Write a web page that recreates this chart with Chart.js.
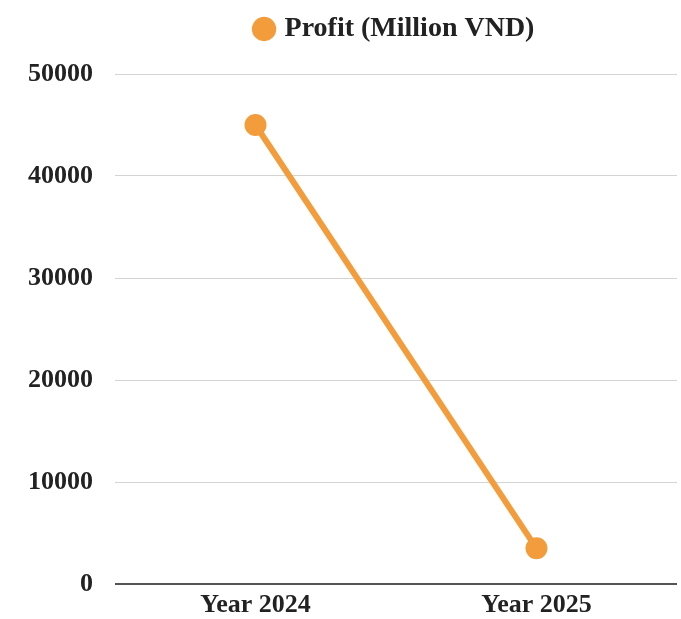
<!DOCTYPE html>
<html>
<head>
<meta charset="utf-8">
<script src="https://cdn.jsdelivr.net/npm/chart.js@4"></script>
<style>
    html, body { margin: 0; padding: 0; background: #fff; }
    .wrap { width: 681px; height: 619px; position: relative; }
</style>
</head>
<body>
<div class="wrap"><canvas id="chart"></canvas></div>
<script>
const years = ["Year 2024", "Year 2025"];
const profit = [45000, 3500];
const yTicks = [0, 10000, 20000, 30000, 40000, 50000];

const orange = "#f39c3c";
const serif = "'Liberation Serif', 'Times New Roman', serif";

// legend takes a fixed band at the top so the plot starts lower
const legendSpace = {
    id: "legendSpace",
    beforeLayout(chart) {
        const lg = chart.legend;
        if (lg && !lg._patched) {
            const fit = lg.fit;
            lg.fit = function () {
                fit.call(this);
                this.height = 74;
            };
            lg._patched = true;
        }
    }
};

const ctx = document.querySelector("#chart").getContext("2d");

new Chart(ctx, {
    type: "line",
    data: {
        labels: years,
        datasets: [
            {
                label: "Profit (Million VND)",
                data: profit,
                borderColor: orange,
                backgroundColor: orange,
                borderWidth: 6,
                pointRadius: 8,
                pointHoverRadius: 8,
                tension: 0
            }
        ]
    },
    options: {
        responsive: true,
        maintainAspectRatio: false,
        animation: false,
        layout: { autoPadding: false, padding: { left: 0, right: 4, top: 0, bottom: 0 } },
        plugins: {
            legend: {
                fullSize: false,
                labels: {
                    usePointStyle: true,
                    pointStyle: "circle",
                    boxWidth: 13,
                    boxHeight: 13,
                    padding: 15,
                    color: "#222",
                    font: { family: serif, size: 28, weight: "bold" }
                }
            },
            tooltip: { enabled: false }
        },
        scales: {
            x: {
                offset: true,
                grid: { display: false, drawTicks: false },
                border: { display: false },
                afterFit: (axis) => { axis.height = 35; },
                ticks: {
                    color: "#222",
                    padding: 6,
                    font: { family: serif, size: 26, weight: "bold" }
                }
            },
            y: {
                min: 0,
                max: 50000,
                afterBuildTicks: (axis) => {
                    axis.ticks = yTicks.map(v => ({ value: v }));
                },
                afterFit: (axis) => {
                    axis.width = 115;
                    axis.paddingBottom = 0;
                },
                grid: {
                    color: (c) => c.tick && c.tick.value === 0 ? "#555" : "#d4d4d4",
                    lineWidth: (c) => c.tick && c.tick.value === 0 ? 2 : 1,
                    drawTicks: false
                },
                border: { display: false },
                ticks: {
                    color: "#222",
                    padding: 22,
                    font: { family: serif, size: 26, weight: "bold" },
                    callback: (v) => String(v)
                }
            }
        }
    },
    plugins: [legendSpace]
});
</script>
</body>
</html>
